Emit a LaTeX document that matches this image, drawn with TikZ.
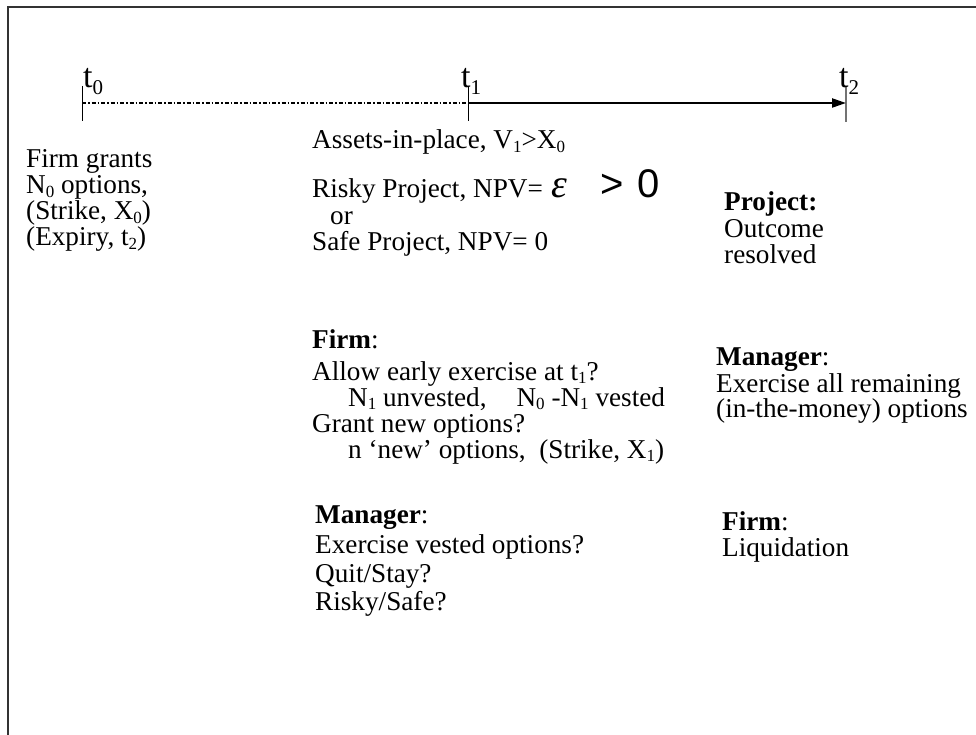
\documentclass[tikz,border=0pt]{standalone}
\usepackage{fontspec}
\setmainfont{Liberation Serif}
\newfontfamily\sansf{Liberation Sans}
\usetikzlibrary{arrows.meta}
\newcommand\lowsub[1]{\raisebox{-0.14em}{\fontsize{17}{17}\selectfont #1}}
\newcommand\tsub[1]{\raisebox{-0.2em}{\fontsize{21}{21}\selectfont #1}}
\tikzset{
  txt/.style={anchor=base west, inner sep=0pt, font=\fontsize{27.2}{27.2}\selectfont},
  big/.style={anchor=base west, inner sep=0pt, font=\fontsize{40}{40}\selectfont},
  tlab/.style={anchor=base west, inner sep=0pt, font=\fontsize{34}{34}\selectfont},
  tick/.style={line width=1pt},
  frame/.style={line width=1.6pt, draw=black!80},
  dashdot/.style={line width=1.6pt, dash pattern=on 4pt off 2pt on 1.5pt off 2pt},
  mainarrow/.style={line width=2.2pt, -{Triangle[length=14pt,width=9pt]}}
}
\begin{document}
\begin{tikzpicture}[x=1pt,y=-1pt]
\useasboundingbox (0,0) rectangle (976,735);
% frame
\coordinate (fTL) at (8,7);
\coordinate (fTR) at (976,7);
\coordinate (fBL) at (8,735);
\draw[frame] (fTR) -- (fTL) -- (fBL);
% timeline
\coordinate (a0) at (82,103);
\coordinate (a1) at (468,103);
\coordinate (a2) at (846,103);
\draw[tick] (82,86) coordinate (a0t) -- (82,121) coordinate (a0b);
\draw[tick] (468,86) coordinate (a1t) -- (468,121) coordinate (a1b);
\draw[tick, draw=black!55, line width=1.5pt] (846,87) coordinate (a2t) -- (846,122) coordinate (a2b);
\draw[dashdot] (a0) -- (a1);
\draw[mainarrow] (a1) -- (a2);
\node[tlab] (lt0) at (83,88) {t\tsub{0}};
\node[tlab] (lt1) at (461,88) {t\tsub{1}};
\node[tlab] (lt2) at (839,88) {t\tsub{2}};
% left column
\node[txt] (l1) at (26,168) {Firm grants};
\node[txt] (l2) at (26,194) {N\lowsub{0} options,};
\node[txt] (l3) at (26,220) {(Strike, X\lowsub{0})};
\node[txt] (l4) at (26,246) {(Expiry, t\lowsub{2})};
% middle column
\node[txt] (m0) at (312,149) {Assets-in-place, V\lowsub{1}>X\lowsub{0}};
\node[txt] (m1) at (312,198) {Risky Project, NPV=};
\node[big] (eps) at (551,198) {\itshape ε};
\node[big] (gt) at (600,198) {\sansf >};
\node[big] (zero) at (637,198) {\sansf 0};
\node[txt] (m2) at (330,225) {or};
\node[txt] (m3) at (312,251) {Safe Project, NPV= 0};
\node[txt] (f0) at (312,348) {\textbf{Firm}:};
\node[txt] (f1) at (312,380) {Allow early exercise at t\lowsub{1}?};
\node[txt] (f2) at (348,406) {N\lowsub{1} unvested,\hspace{1.1em}N\lowsub{0} -N\lowsub{1} vested};
\node[txt] (f3) at (312,432) {Grant new options?};
\node[txt] (f4) at (348,458) {n ‘new’ options,\ \ (Strike, X\lowsub{1})};
\node[txt] (g0) at (315,523) {\textbf{Manager}:};
\node[txt] (g1) at (315,553) {Exercise vested options?};
\node[txt] (g2) at (315,582) {Quit/Stay?};
\node[txt] (g3) at (315,610) {Risky/Safe?};
% right column
\node[txt] (r0) at (724,211) {\textbf{Project:}};
\node[txt] (r1) at (724,237) {Outcome};
\node[txt] (r2) at (724,263) {resolved};
\node[txt] (s0) at (716,365) {\textbf{Manager}:};
\node[txt] (s1) at (716,392) {Exercise all remaining};
\node[txt] (s2) at (716,417) {(in-the-money) options};
\node[txt] (u0) at (722,530) {\textbf{Firm}:};
\node[txt] (u1) at (722,556) {Liquidation};
\end{tikzpicture}
\end{document}
